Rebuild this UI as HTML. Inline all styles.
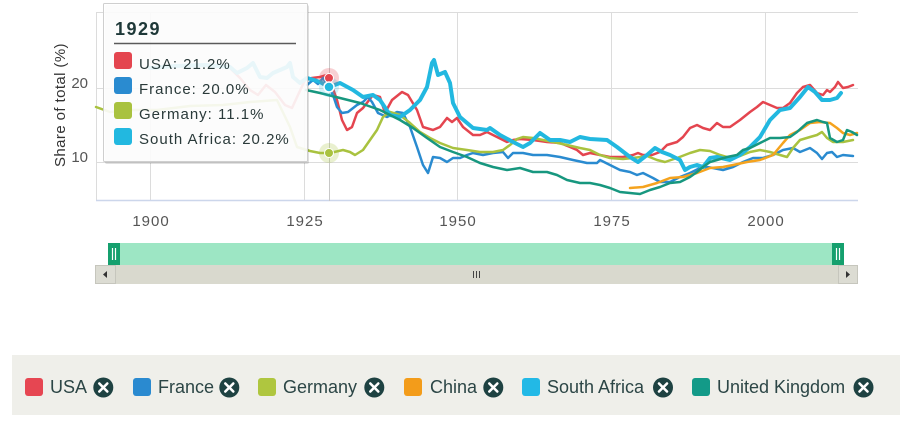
<!DOCTYPE html>
<html><head><meta charset="utf-8"><style>
html,body{margin:0;padding:0;background:#fff;width:900px;height:423px;overflow:hidden}
svg{display:block;font-family:"Liberation Sans","DejaVu Sans",sans-serif}
</style></head><body>
<svg width="900" height="423" viewBox="0 0 900 423" xmlns="http://www.w3.org/2000/svg">
<!-- grid -->
<g stroke="#dcdcdc" stroke-width="1" fill="none">
<line x1="96" y1="12.5" x2="858" y2="12.5"/>
<line x1="96" y1="88.5" x2="858" y2="88.5"/>
<line x1="96" y1="162.5" x2="858" y2="162.5"/>
<line x1="96.5" y1="12" x2="96.5" y2="201"/>
<line x1="150.5" y1="12" x2="150.5" y2="201"/>
<line x1="304.5" y1="12" x2="304.5" y2="201"/>
<line x1="457.5" y1="12" x2="457.5" y2="201"/>
<line x1="611.5" y1="12" x2="611.5" y2="201"/>
<line x1="765.5" y1="12" x2="765.5" y2="201"/>
</g>
<line x1="96" y1="200.5" x2="858" y2="200.5" stroke="#ccd6eb" stroke-width="1.5"/>
<!-- crosshair -->
<line x1="329.5" y1="12" x2="329.5" y2="201" stroke="#c8c8c8" stroke-width="1"/>

<!-- axis labels -->
<g fill="#555" font-size="15" letter-spacing="1" text-anchor="middle">
<text x="151" y="226">1900</text>
<text x="305" y="226">1925</text>
<text x="458" y="226">1950</text>
<text x="612" y="226">1975</text>
<text x="766" y="226">2000</text>
</g>
<g fill="#555" font-size="15" text-anchor="end">
<text x="88" y="88">20</text>
<text x="88" y="162">10</text>
</g>
<text x="105" y="65" transform="rotate(-90 65 105) translate(-40 40)" font-size="15" letter-spacing="0.4" fill="#333" text-anchor="middle">Share of total (%)</text>

<!-- series -->
<g fill="none" stroke-linejoin="round" stroke-linecap="round">
<!-- USA -->
<polyline stroke="#e4454f" stroke-width="2.5" points="230,68 240,78 250,90 258,95 266,85 275,92 285,105 292,108 298,95 305,80 312,78 320,77 327,75 330,80 337,100 342,120 347,130 352,127 357,113 363,108 373,95 380,97 385,113 392,100 402,92 408,95 417,110 423,127 433,130 440,127 447,118 452,122 457,118 463,127 473,135 480,135 487,132 497,137 507,142 513,140 520,139 533,140 547,142 560,143 570,147 577,150 583,155 590,153 600,155 610,157 623,157 633,155 638,153 643,155 652,155 660,152 667,145 677,142 683,137 690,128 697,125 703,128 710,130 717,123 723,127 730,127 740,120 750,112 757,107 763,102 770,105 777,108 783,108 790,103 797,93 803,87 810,85 817,93 823,95 827,90 830,92 835,87 838,82 843,88 848,87 853,85"/>
<!-- France -->
<polyline stroke="#2a8bd0" stroke-width="2.5" points="307,85 313,80 318,84 323,78 329,88 333,95 337,107 342,113 348,112 357,105 363,102 368,97 372,102 378,113 387,117 397,112 403,113 410,127 417,147 423,165 428,173 433,157 440,158 447,162 453,158 460,158 467,155 473,153 483,155 493,153 503,152 508,158 513,153 523,153 533,155 547,155 560,157 573,160 587,163 597,163 600,160 610,165 620,170 630,172 637,175 643,173 653,178 660,182 670,182 680,177 690,173 700,168 707,167 713,168 723,170 733,167 743,162 753,158 763,158 773,155 783,150 793,148 800,152 810,148 817,153 822,159 827,153 832,152 837,157 843,155 853,156"/>
<!-- Germany -->
<polyline stroke="#a9c23f" stroke-width="2.5" points="96,107 110,112 130,110 157,110 190,106 223,105 250,102 277,100 290,127 297,147 310,151 320,153 330,153 343,150 350,152 355,155 363,150 370,140 377,130 383,117 390,112 400,115 410,123 420,132 430,138 440,143 453,148 467,150 480,152 493,152 503,150 510,145 517,139 523,137 533,138 543,140 553,142 567,145 580,148 590,150 600,155 610,158 623,159 633,158 647,156 657,160 665,162 677,158 690,153 700,150 710,151 720,155 730,158 740,156 750,152 760,150 770,152 780,155 787,157 793,148 800,140 810,137 817,135 822,132 827,138 833,142 843,142 853,140"/>
<!-- China -->
<polyline stroke="#f5a31e" stroke-width="2.5" points="630,188 643,187 657,183 670,178 683,177 697,173 710,168 723,167 733,165 747,162 760,160 773,155 783,143 790,135 800,130 810,123 820,122 830,123 837,128 843,133 850,135 857,133"/>
<!-- South Africa -->
<polyline stroke="#22b8e0" stroke-width="4" points="150,68 175,66 205,65 230,67 237,73 247,68 253,63 260,77 267,78 273,73 280,70 287,67 290,63 293,77 300,83 307,78 314,80 320,82 329,87 340,83 353,90 363,97 373,95 380,100 390,115 400,117 410,110 420,100 427,87 432,63 434,60 438,75 445,72 450,83 453,103 460,117 473,128 487,130 490,128 500,135 513,142 523,147 530,143 540,133 550,140 560,140 570,142 580,137 590,139 607,140 617,147 630,157 638,162 647,155 655,148 662,152 670,155 680,160 685,170 690,167 697,165 703,167 710,158 717,157 730,160 740,155 750,147 760,137 770,120 780,110 790,108 800,97 808,87 815,92 822,100 830,100 837,98 841,93"/>
<!-- UK -->
<polyline stroke="#17977f" stroke-width="2.5" points="306,90 320,93 340,98 360,103 380,110 400,120 413,128 427,138 440,147 453,152 467,157 480,163 493,167 507,170 520,168 533,172 547,172 557,175 567,180 580,183 590,183 600,185 610,188 620,192 630,193 640,194 650,190 660,187 670,183 680,182 690,177 697,172 703,167 710,162 717,160 727,157 737,155 743,150 750,148 760,143 770,138 780,138 790,137 797,132 807,123 817,120 823,122 827,123 830,138 837,142 843,140 847,130 852,132 857,135"/>
</g>
<!-- markers -->
<circle cx="329" cy="78" r="10" fill="#e4454f" fill-opacity="0.25"/>
<circle cx="329" cy="87" r="10" fill="#22b8e0" fill-opacity="0.2"/>
<circle cx="329" cy="153" r="10" fill="#a9c23f" fill-opacity="0.25"/>
<circle cx="329" cy="78" r="4.5" fill="#e4454f" stroke="#fff" stroke-width="1"/>
<circle cx="329" cy="87" r="5" fill="#22b8e0" stroke="#fff" stroke-width="1.5"/>
<circle cx="329" cy="153" r="4.5" fill="#a9c23f" stroke="#fff" stroke-width="1"/>

<!-- tooltip -->
<rect x="105" y="5" width="204" height="159" fill="#000" fill-opacity="0.12" rx="2"/>
<rect x="103.5" y="3.5" width="204" height="158" fill="#fff" fill-opacity="0.9" stroke="#cfcfcf" stroke-width="1" rx="1"/>
<text x="115" y="35" font-size="18" font-weight="bold" letter-spacing="1.5" fill="#1e3838">1929</text>
<line x1="114" y1="43.5" x2="296" y2="43.5" stroke="#5a5a5a" stroke-width="1.5"/>
<rect x="114" y="52" width="18" height="17" rx="3" fill="#e4454f"/>
<rect x="114" y="77" width="18" height="17" rx="3" fill="#2a8bd0"/>
<rect x="114" y="102" width="18" height="17" rx="3" fill="#a9c23f"/>
<rect x="114" y="128" width="18" height="17" rx="3" fill="#22b8e0"/>
<g font-size="15" letter-spacing="1" fill="#2a3a3a">
<text x="139" y="69">USA: 21.2%</text>
<text x="139" y="94">France: 20.0%</text>
<text x="139" y="119">Germany: 11.1%</text>
<text x="139" y="144">South Africa: 20.2%</text>
</g>

<!-- navigator -->
<rect x="108" y="243" width="736" height="22" fill="#9de6c4"/>
<rect x="108" y="243" width="12" height="22" fill="#15a06e"/>
<rect x="832" y="243" width="12" height="22" fill="#15a06e"/>
<g stroke="#fff" stroke-width="1.2">
<line x1="112.5" y1="248" x2="112.5" y2="260"/><line x1="115.5" y1="248" x2="115.5" y2="260"/>
<line x1="836.5" y1="248" x2="836.5" y2="260"/><line x1="839.5" y1="248" x2="839.5" y2="260"/>
</g>
<rect x="95" y="265" width="763" height="19" fill="#d9d9ce"/>
<rect x="95.5" y="265.5" width="20" height="18" fill="#dcdcd3" stroke="#c6c6bd"/>
<rect x="838.5" y="265.5" width="19" height="18" fill="#dcdcd3" stroke="#c6c6bd"/>
<polygon points="103,274.5 107,271 107,278" fill="#333"/>
<polygon points="850,274.5 846,271 846,278" fill="#333"/>
<g stroke="#444" stroke-width="1">
<line x1="473.5" y1="271" x2="473.5" y2="278"/><line x1="476.5" y1="271" x2="476.5" y2="278"/><line x1="479.5" y1="271" x2="479.5" y2="278"/>
</g>

<!-- legend -->
<rect x="12" y="355" width="888" height="60" fill="#efefea"/>
<g>
<rect x="25" y="378" width="18" height="18" rx="3" fill="#e64652"/>
<rect x="133" y="378" width="18" height="18" rx="3" fill="#2a8ad0"/>
<rect x="258" y="378" width="18" height="18" rx="3" fill="#afc63f"/>
<rect x="404" y="378" width="18" height="18" rx="3" fill="#f39c1a"/>
<rect x="522" y="378" width="18" height="18" rx="3" fill="#22b9e6"/>
<rect x="692" y="378" width="18" height="18" rx="3" fill="#139a88"/>
</g>
<g font-size="18" fill="#2c4646">
<text x="50" y="393">USA</text>
<text x="158" y="393">France</text>
<text x="283" y="393">Germany</text>
<text x="430" y="393">China</text>
<text x="547" y="393">South Africa</text>
<text x="717" y="393">United Kingdom</text>
</g>
<g fill="#1e4242">
<circle cx="103.3" cy="387.5" r="10"/>
<circle cx="229.3" cy="387.5" r="10"/>
<circle cx="374.3" cy="387.5" r="10"/>
<circle cx="493.3" cy="387.5" r="10"/>
<circle cx="663" cy="387.5" r="10"/>
<circle cx="863.5" cy="387.5" r="10"/>
</g>
<g stroke="#fff" stroke-width="2.6" stroke-linecap="round">
<path d="M99.3 383.5 L107.3 391.5 M107.3 383.5 L99.3 391.5"/>
<path d="M225.3 383.5 L233.3 391.5 M233.3 383.5 L225.3 391.5"/>
<path d="M370.3 383.5 L378.3 391.5 M378.3 383.5 L370.3 391.5"/>
<path d="M489.3 383.5 L497.3 391.5 M497.3 383.5 L489.3 391.5"/>
<path d="M659 383.5 L667 391.5 M667 383.5 L659 391.5"/>
<path d="M859.5 383.5 L867.5 391.5 M867.5 383.5 L859.5 391.5"/>
</g>
</svg>
</body></html>
